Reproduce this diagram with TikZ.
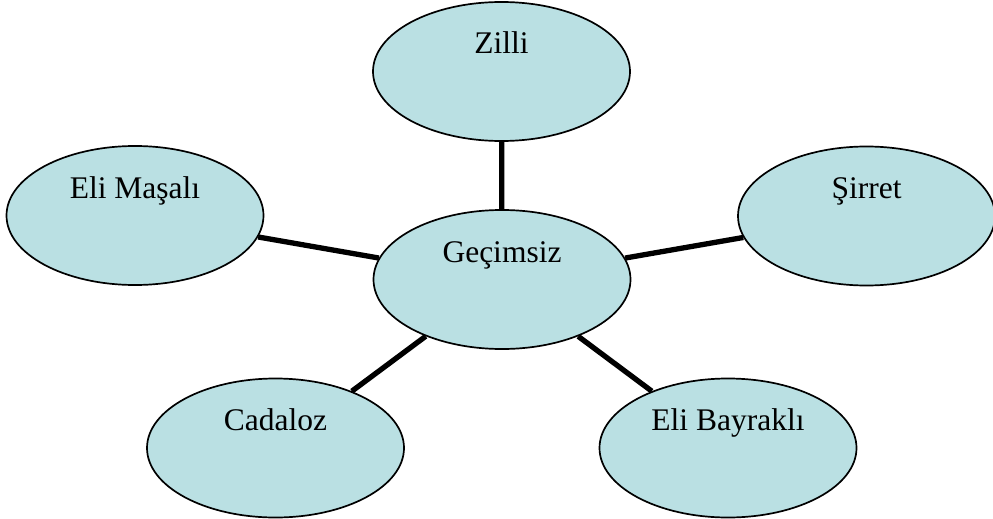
\documentclass[tikz,border=0pt]{standalone}
\usepackage{fontspec}
\setmainfont{Liberation Serif}
\usetikzlibrary{shapes.geometric}
\definecolor{bubblefill}{RGB}{186,224,227}
\tikzset{
  bubble/.style={ellipse, draw=black, line width=1.7pt, fill=bubblefill,
    minimum width=257pt, minimum height=139pt, inner sep=0pt},
  txt/.style={anchor=base, inner sep=0pt, font=\fontsize{31.5}{37}\selectfont},
  link/.style={line width=5.3pt, black}
}
\begin{document}
\begin{tikzpicture}[x=1pt,y=-1pt]
\useasboundingbox (0,0) rectangle (993,519);
\node[bubble] (z) at (501.5,71.5) {};
\node[bubble] (g) at (502,279.5) {};
\node[bubble] (s) at (866.5,216) {};
\node[bubble] (m) at (135,215.5) {};
\node[bubble] (c) at (275.5,448) {};
\node[bubble] (b) at (728,448) {};
\node[txt] (zt) at ([yshift=17.5pt]z.center) {Zilli};
\node[txt] (gt) at ([yshift=17.5pt]g.center) {Geçimsiz};
\node[txt] (st) at ([yshift=17.5pt]s.center) {Şirret};
\node[txt] (mt) at ([yshift=17.5pt]m.center) {Eli Maşalı};
\node[txt] (ct) at ([yshift=17.5pt]c.center) {Cadaloz};
\node[txt] (bt) at ([yshift=17.5pt]b.center) {Eli Bayraklı};
\draw[link] (g) -- (z);
\draw[link] (g) -- (s);
\draw[link] (g) -- (m);
\draw[link] (g) -- (c);
\draw[link] (g) -- (b);
\end{tikzpicture}
\end{document}
